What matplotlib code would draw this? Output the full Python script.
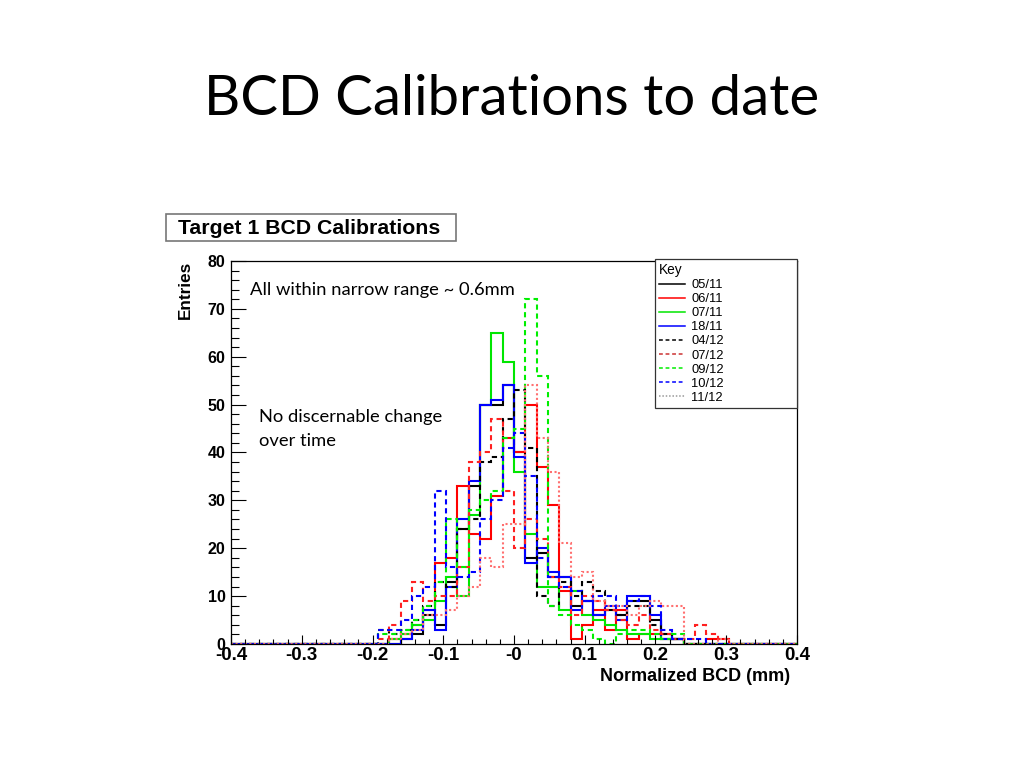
import matplotlib.pyplot as plt
from matplotlib.lines import Line2D
from matplotlib.patches import Rectangle
import numpy as np

# 50 bins from -0.4 to 0.4 mm; the lists below start at bin 12 (-0.208 mm)
n_bins = 50
first_bin = 12

c_0511 = [0, 0, 0, 1, 2, 6, 4, 13, 24, 33, 50, 50, 54, 40, 18, 19, 14, 14, 8, 9, 6, 7, 6, 9, 9, 5, 2, 1, 0, 0, 0, 0, 0]
c_0611 = [0, 0, 1, 2, 4, 7, 17, 18, 33, 23, 22, 31, 43, 40, 50, 37, 29, 11, 1, 4, 7, 3, 7, 1, 2, 2, 1, 1, 0, 0, 1, 1, 0]
c_0711 = [0, 0, 1, 2, 4, 5, 9, 14, 10, 27, 50, 65, 59, 36, 23, 12, 12, 7, 11, 6, 5, 4, 3, 2, 2, 1, 1, 1, 0, 0, 0, 0, 0]
c_1811 = [0, 0, 0, 1, 3, 7, 3, 12, 26, 34, 50, 51, 54, 39, 17, 20, 15, 14, 7, 9, 6, 8, 5, 10, 10, 6, 1, 1, 0, 0, 0, 0, 0]
c_0412 = [0, 3, 2, 3, 5, 8, 13, 12, 24, 26, 38, 39, 47, 53, 41, 10, 8, 13, 10, 13, 11, 7, 6, 8, 8, 4, 2, 1, 0, 0, 0, 0, 0]
c_0712 = [0, 1, 4, 9, 13, 9, 10, 10, 16, 38, 40, 47, 32, 20, 26, 22, 14, 12, 6, 10, 9, 7, 5, 4, 6, 3, 2, 1, 1, 4, 2, 1, 0]
c_0912 = [0, 2, 2, 3, 5, 8, 13, 26, 16, 28, 30, 32, 43, 45, 72, 56, 8, 6, 4, 3, 1, 0, 2, 3, 3, 2, 1, 2, 0, 0, 0, 0, 0]
c_1012 = [0, 3, 3, 5, 10, 12, 32, 16, 14, 15, 26, 30, 41, 44, 35, 18, 14, 12, 11, 9, 10, 10, 8, 9, 10, 8, 3, 1, 1, 1, 0, 0, 0]
c_1112 = [0, 0, 1, 2, 3, 6, 6, 7, 10, 12, 18, 16, 25, 25, 54, 43, 36, 21, 14, 15, 9, 8, 8, 6, 8, 9, 8, 8, 0, 0, 0, 1, 0]

labels = ["05/11", "06/11", "07/11", "18/11", "04/12", "07/12", "09/12", "10/12", "11/12"]
counts = [c_0511, c_0611, c_0711, c_1811, c_0412, c_0712, c_0912, c_1012, c_1112]
colors = ["black", "#ff0000", "#00e600", "#0000ff", "black", "#ff2020", "#00ee00", "#0000ff", "#ff7070"]
key_colors = ["black", "#ff0000", "#00e600", "#0000ff", "black", "#cc3333", "#00ee00", "#0000ff", "#999999"]
dash = (0, (2.5, 1.8))
dot = (0, (1, 1.2))
styles = ["-", "-", "-", "-", dash, dash, dash, dash, dot]

xtick_vals = [-0.4, -0.3, -0.2, -0.1, 0.0, 0.1, 0.2, 0.3, 0.4]
xtick_labels = ["-0.4", "-0.3", "-0.2", "-0.1", "-0", "0.1", "0.2", "0.3", "0.4"]

edges = np.linspace(-0.4, 0.4, n_bins + 1)

fig = plt.figure(figsize=(10.24, 7.68), dpi=100)
fig.patch.set_facecolor("white")

fig.text(0.5, 0.870, "BCD Calibrations to date", ha="center", va="center",
         fontsize=40.5, family="Lato")

# box with the histogram title
fig.patches.append(Rectangle((0.1621, 0.6862), 0.2832, 0.0352, transform=fig.transFigure,
                             facecolor="white", edgecolor="#777777", lw=1.2))
fig.text(0.1738, 0.7031, "Target 1 BCD Calibrations", ha="left", va="center",
         fontsize=15.3, fontweight="bold", family="Liberation Sans")

ax = fig.add_axes([0.2256, 0.1615, 0.5527, 0.4987])

for vals, col, ls in zip(counts, colors, styles):
    full = np.zeros(n_bins)
    full[first_bin:first_bin + len(vals)] = vals
    ax.stairs(full, edges, color=col, linestyle=ls, lw=1.5)

ax.set_xlim(-0.4, 0.4)
ax.set_ylim(0, 80)
ax.set_xticks(xtick_vals)
ax.set_xticklabels(xtick_labels)
ax.set_xticks(np.arange(-0.4, 0.401, 0.02), minor=True)
ax.set_yticks(np.arange(0, 81, 10))
ax.set_yticks(np.arange(0, 81, 2), minor=True)

ax.tick_params(axis="x", which="major", direction="in", length=6.5, width=0.8, pad=2.5,
               labelsize=13.5)
ax.tick_params(axis="x", which="minor", direction="in", length=3.6, width=0.8)
ax.tick_params(axis="y", which="major", direction="in", length=11, width=0.8, pad=4,
               labelsize=11.5)
ax.tick_params(axis="y", which="minor", direction="in", length=5.4, width=0.8)
for lab in ax.get_xticklabels() + ax.get_yticklabels():
    lab.set_fontweight("bold")
    lab.set_family("Liberation Sans")
for sp in ax.spines.values():
    sp.set_linewidth(0.9)

ax.set_xlabel("Normalized BCD (mm)", fontsize=13, fontweight="bold", family="Liberation Sans",
              ha="right", va="center")
ax.xaxis.set_label_coords(0.988, -0.084)
ax.set_ylabel("Entries", fontsize=12.3, fontweight="bold", family="Liberation Sans",
              ha="right", va="center")
ax.yaxis.set_label_coords(-0.08, 1.0)

handles = [Line2D([], [], color=c, linestyle=s, lw=1.1) for c, s in zip(key_colors, styles)]
leg = ax.legend(handles, labels, title="Key", loc="upper left",
                bbox_to_anchor=(0.749, 0.0, 0.251, 1.005), mode="expand",
                borderaxespad=0, fancybox=False, framealpha=1, edgecolor="#333333",
                fontsize=9.3, title_fontsize=9.8, alignment="left",
                handlelength=2.0, handletextpad=0.5, labelspacing=0.16,
                borderpad=0.3)
leg.get_frame().set_linewidth(0.9)
for t in leg.get_texts():
    t.set_family("Liberation Sans")
leg.get_title().set_family("Liberation Sans")

fig.text(0.2441, 0.6224, "All within narrow range ~ 0.6mm", ha="left", va="center",
         fontsize=13.2, family="Lato")
fig.text(0.2529, 0.457, "No discernable change", ha="left", va="center",
         fontsize=13.2, family="Lato")
fig.text(0.2529, 0.426, "over time", ha="left", va="center",
         fontsize=13.2, family="Lato")

fig.savefig("out.png", dpi=100)
